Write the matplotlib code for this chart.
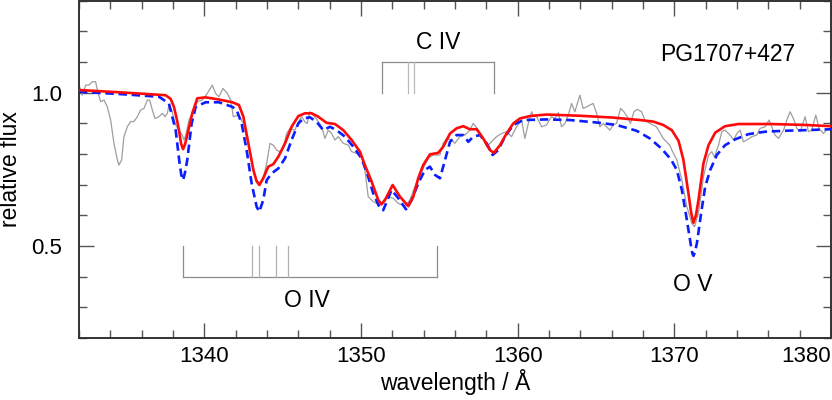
import matplotlib
matplotlib.use("Agg")
import matplotlib.pyplot as plt
from matplotlib.ticker import MultipleLocator

plt.rcParams['font.family'] = ['Liberation Sans', 'DejaVu Sans']

# ---- observed spectrum (grey) ----
obs_wl = [1332.00, 1332.21, 1332.43, 1332.64, 1332.85, 1333.06, 1333.17, 1333.38, 1333.60, 1333.81,
          1334.02, 1334.23, 1334.45, 1334.55, 1334.72, 1334.87, 1335.08, 1335.30, 1335.51, 1335.72,
          1335.94, 1336.15, 1336.36, 1336.51, 1336.68, 1336.85, 1337.11, 1337.32, 1337.49, 1337.64,
          1337.74, 1337.91, 1338.17, 1338.38, 1338.59, 1338.70, 1338.81, 1339.02, 1339.34, 1339.55,
          1339.87, 1340.19, 1340.51, 1340.72, 1340.93, 1341.19, 1341.47, 1341.68, 1341.85, 1342.17,
          1342.49, 1342.81, 1343.13, 1343.34, 1343.55, 1343.76, 1343.98, 1344.19, 1344.40, 1344.61,
          1344.83, 1345.04, 1345.25, 1345.47, 1345.78, 1346.00, 1346.21, 1346.42, 1346.57, 1346.74,
          1346.95, 1347.21, 1347.49, 1347.70, 1347.91, 1348.12, 1348.34, 1348.55, 1348.87, 1349.19,
          1349.40, 1349.72, 1350.04, 1350.25, 1350.46, 1350.78, 1351.21, 1351.63, 1352.06, 1352.38,
          1352.80, 1353.12, 1353.44, 1353.87, 1354.29, 1354.61, 1355.04, 1355.25, 1355.46, 1355.78,
          1355.99, 1356.31, 1356.63, 1356.95, 1357.16, 1357.42, 1357.70, 1358.02, 1358.33, 1358.65,
          1358.97, 1359.29, 1359.61, 1359.93, 1360.25, 1360.46, 1360.68, 1360.89, 1360.99, 1361.21,
          1361.53, 1361.84, 1362.16, 1362.38, 1362.59, 1362.80, 1363.02, 1363.23, 1363.44, 1363.65,
          1363.97, 1364.18, 1364.40, 1364.61, 1364.82, 1365.04, 1365.25, 1365.46, 1365.67, 1365.89,
          1366.10, 1366.31, 1366.57, 1366.78, 1366.99, 1367.20, 1367.42, 1367.63, 1367.91, 1368.12,
          1368.44, 1368.86, 1369.29, 1369.71, 1369.84, 1370.16, 1370.48, 1370.80, 1371.12, 1371.29,
          1371.54, 1371.86, 1372.18, 1372.39, 1372.56, 1372.82, 1373.03, 1373.24, 1373.56, 1373.78,
          1373.99, 1374.20, 1374.41, 1374.63, 1374.95, 1375.26, 1375.48, 1375.80, 1376.05, 1376.22,
          1376.43, 1376.65, 1376.97, 1377.18, 1377.39, 1377.60, 1377.82, 1378.03, 1378.35, 1378.56,
          1378.77, 1379.03, 1379.24, 1379.52, 1379.80, 1380.00]
obs_flux = [1.025, 0.992, 1.025, 1.025, 1.036, 1.036, 1.009, 0.971, 0.976, 0.954,
            0.911, 0.835, 0.781, 0.764, 0.781, 0.857, 0.889, 0.906, 0.906, 0.922,
            0.944, 0.949, 0.976, 0.976, 0.944, 0.916, 0.922, 0.933, 0.922, 0.933,
            0.960, 0.944, 0.895, 0.878, 0.862, 0.846, 0.862, 0.911, 0.944, 0.971,
            0.976, 0.998, 1.025, 0.998, 0.987, 1.014, 0.998, 0.976, 0.922, 0.927,
            0.900, 0.835, 0.748, 0.715, 0.704, 0.721, 0.770, 0.835, 0.829, 0.813,
            0.808, 0.818, 0.867, 0.884, 0.878, 0.905, 0.922, 0.905, 0.900, 0.938,
            0.927, 0.911, 0.889, 0.851, 0.878, 0.867, 0.846, 0.857, 0.835, 0.829,
            0.808, 0.802, 0.791, 0.748, 0.661, 0.645, 0.634, 0.661, 0.656, 0.639,
            0.630, 0.650, 0.694, 0.743, 0.786, 0.797, 0.797, 0.835, 0.851, 0.846,
            0.835, 0.857, 0.862, 0.878, 0.900, 0.884, 0.862, 0.824, 0.840, 0.857,
            0.867, 0.873, 0.857, 0.889, 0.911, 0.851, 0.900, 0.938, 0.927, 0.922,
            0.889, 0.895, 0.922, 0.916, 0.935, 0.889, 0.900, 0.927, 0.965, 0.938,
            0.992, 0.949, 0.954, 0.960, 0.965, 0.933, 0.889, 0.900, 0.889, 0.878,
            0.895, 0.900, 0.949, 0.938, 0.922, 0.900, 0.938, 0.946, 0.938, 0.911,
            0.900, 0.889, 0.851, 0.829, 0.813, 0.781, 0.715, 0.628, 0.574, 0.563,
            0.607, 0.726, 0.797, 0.808, 0.791, 0.829, 0.873, 0.878, 0.862, 0.846,
            0.867, 0.878, 0.840, 0.846, 0.857, 0.862, 0.884, 0.889, 0.911, 0.889,
            0.862, 0.851, 0.878, 0.911, 0.938, 0.916, 0.884, 0.873, 0.922, 0.873,
            0.878, 0.927, 0.884, 0.867, 0.884, 0.878]

# ---- model 1 (red, solid) ----
red_wl = [1332.00, 1334.77, 1337.53, 1337.85, 1338.06, 1338.25, 1338.38, 1338.52, 1338.64, 1338.77,
          1338.91, 1339.23, 1339.55, 1340.08,
          1340.93, 1341.79, 1342.21, 1342.49, 1342.81, 1343.13, 1343.33, 1343.51, 1343.76, 1344.08, 1344.40,
          1344.72, 1345.15, 1345.57, 1346.00, 1346.42, 1346.85, 1347.27, 1347.80, 1348.34, 1348.87,
          1349.40, 1349.93, 1350.25, 1350.68, 1351.10, 1351.31, 1351.53, 1352.02, 1352.49, 1353.02,
          1353.34, 1353.65, 1353.97, 1354.40, 1354.93, 1355.25, 1355.68, 1356.10, 1356.53, 1356.95,
          1357.38, 1357.80, 1358.23, 1358.48, 1358.87, 1359.29, 1359.72, 1360.14, 1360.78, 1361.84,
          1363.97, 1366.10, 1367.80, 1368.65, 1369.29, 1369.84, 1370.27, 1370.58, 1370.90, 1371.08,
          1371.22, 1371.38,
          1371.54, 1371.86, 1372.18, 1372.61, 1373.24, 1374.09, 1376.22, 1378.35, 1380.00]
red_flux = [1.009, 1.001, 0.992, 0.980, 0.954, 0.912, 0.878, 0.833, 0.816, 0.832,
            0.862, 0.933, 0.982, 0.985,
            0.978, 0.969, 0.960, 0.922, 0.835, 0.748, 0.712, 0.699, 0.721, 0.759, 0.767,
            0.791, 0.835, 0.889, 0.924, 0.933, 0.933, 0.922, 0.902, 0.898, 0.878,
            0.846, 0.808, 0.764, 0.710, 0.650, 0.636, 0.650, 0.699, 0.661, 0.630,
            0.661, 0.721, 0.764, 0.799, 0.804, 0.824, 0.867, 0.884, 0.891, 0.881,
            0.881, 0.851, 0.813, 0.804, 0.829, 0.867, 0.900, 0.916, 0.924, 0.929,
            0.925, 0.919, 0.911, 0.906, 0.895, 0.878, 0.843, 0.781, 0.672, 0.607,
            0.576, 0.600,
            0.650, 0.770, 0.829, 0.870, 0.891, 0.898, 0.898, 0.895, 0.891]

# ---- model 2 (blue, dashed) ----
blue_wl = [1332.00, 1334.55, 1337.11, 1337.74, 1338.17, 1338.42, 1338.53, 1338.64, 1338.76, 1338.91,
           1339.19, 1339.45,
           1340.08, 1340.93, 1341.79, 1342.06, 1342.38, 1342.70, 1343.02, 1343.34, 1343.51, 1343.76,
           1343.98, 1344.30, 1344.72, 1345.15, 1345.57, 1346.00, 1346.32, 1346.74, 1347.17, 1347.59,
           1348.02, 1348.44, 1348.97, 1349.51, 1350.04, 1350.46, 1350.78, 1351.21, 1351.42, 1351.95,
           1352.38, 1352.87, 1353.23, 1353.65, 1354.08, 1354.40, 1354.72, 1355.04, 1355.36, 1355.68,
           1356.10, 1356.53, 1356.85, 1357.16, 1357.59, 1358.02, 1358.40, 1358.76, 1359.19, 1359.72,
           1360.36, 1361.84, 1363.33, 1365.04, 1366.31, 1367.59, 1368.44, 1369.18, 1369.78, 1370.16,
           1370.48, 1370.80, 1371.07, 1371.15, 1371.22, 1371.30, 1371.44, 1371.71, 1371.97, 1372.29,
           1372.71, 1373.24, 1373.88, 1374.73, 1375.80, 1377.07, 1378.35, 1380.00]
blue_flux = [1.003, 0.996, 0.987, 0.965, 0.878, 0.770, 0.732, 0.715, 0.738, 0.781,
             0.900, 0.954,
             0.969, 0.969, 0.954, 0.944, 0.900, 0.813, 0.704, 0.628, 0.612, 0.650,
             0.715, 0.737, 0.753, 0.786, 0.846, 0.900, 0.916, 0.920, 0.905, 0.878,
             0.889, 0.878, 0.857, 0.824, 0.786, 0.726, 0.672, 0.623, 0.617, 0.683,
             0.656, 0.620, 0.650, 0.704, 0.748, 0.759, 0.732, 0.721, 0.780, 0.840,
             0.862, 0.862, 0.840, 0.857, 0.862, 0.835, 0.797, 0.813, 0.857, 0.895,
             0.911, 0.913, 0.911, 0.903, 0.895, 0.876, 0.851, 0.818, 0.783, 0.748,
             0.683, 0.585, 0.498, 0.476, 0.468, 0.478, 0.509, 0.607, 0.694, 0.748,
             0.797, 0.829, 0.848, 0.865, 0.873, 0.876, 0.878, 0.881]

# ---- line identifications ----
oiv_lines = [1338.66, 1343.02, 1343.51, 1344.57, 1345.36, 1354.83]
civ_lines = [1351.32, 1352.98, 1353.40, 1358.50]

xticks = [1340, 1350, 1360, 1370, 1380]
yticks = [0.5, 1.0]

fig = plt.figure(figsize=(8.32, 4.0), dpi=100)
ax = fig.add_axes([79 / 832, 0.155, 752 / 832, 0.843])

ax.plot(obs_wl, obs_flux, color='#9e9e9e', lw=0.9, zorder=2)
ax.plot(blue_wl, blue_flux, color='#0a1eff', lw=1.9, ls=(0, (3.2, 1.8)), zorder=3)
ax.plot(red_wl, red_flux, color='#ff0a0a', lw=1.9, zorder=4)

# O IV bracket (below)
ax.plot([oiv_lines[0], oiv_lines[-1]], [0.4, 0.4], color='#8c8c8c', lw=0.9)
for i, w in enumerate(oiv_lines):
    c = '#8c8c8c' if i in (0, len(oiv_lines) - 1) else '#b0b0b0'
    ax.plot([w, w], [0.4, 0.5], color=c, lw=0.9)
# C IV bracket (above)
ax.plot([civ_lines[0], civ_lines[-1]], [1.1, 1.1], color='#8c8c8c', lw=0.9)
for i, w in enumerate(civ_lines):
    c = '#8c8c8c' if i in (0, len(civ_lines) - 1) else '#b8b8b8'
    ax.plot([w, w], [1.0, 1.1], color=c, lw=0.9)

ax.text(1354.91, 1.163, 'C IV', fontsize=16.5, ha='center', va='center')
ax.text(1346.53, 0.322, 'O IV', fontsize=16.5, ha='center', va='center')
ax.text(1371.18, 0.373, 'O V', fontsize=16.5, ha='center', va='center')
ax.text(1373.42, 1.126, 'PG1707+427', fontsize=16.5, ha='center', va='center')

ax.set_xlim(1332, 1380)
ax.set_ylim(0.2, 1.3)
ax.set_xticks(xticks)
ax.set_xticklabels([str(t) for t in xticks])
ax.set_yticks(yticks)
ax.set_yticklabels(['%.1f' % t for t in yticks])
ax.xaxis.set_minor_locator(MultipleLocator(2))
ax.yaxis.set_minor_locator(MultipleLocator(0.1))
ax.tick_params(which='both', direction='in', top=True, right=True, color='#555555', width=1.0)
ax.tick_params(which='major', length=11, labelsize=16)
ax.tick_params(which='minor', length=5.5)
ax.tick_params(axis='x', which='major', pad=6)
ax.tick_params(axis='y', which='major', pad=12)
ax.get_xticklabels()[-1].set_ha('right')

for s in ax.spines.values():
    s.set_linewidth(1.4)
    s.set_color('#333333')

ax.set_xlabel('wavelength / Å', fontsize=16.5, labelpad=1)
ax.set_ylabel('relative flux', fontsize=16.5, labelpad=7)

fig.savefig('out.png', dpi=100)
